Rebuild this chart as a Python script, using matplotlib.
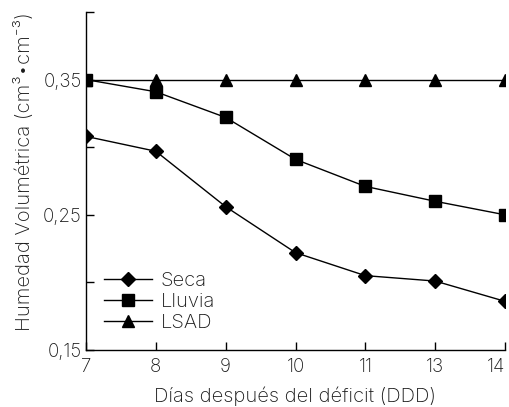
import matplotlib
matplotlib.use("Agg")
import matplotlib.pyplot as plt
import numpy as np

days = ["7", "8", "9", "10", "11", "13", "14"]
seca = [0.308, 0.297, 0.256, 0.222, 0.205, 0.201, 0.186]
lluvia = [0.350, 0.341, 0.322, 0.291, 0.271, 0.260, 0.250]
lsad = [0.350, 0.350, 0.350, 0.350, 0.350, 0.350, 0.350]
yticks_major = [0.15, 0.25, 0.35]
ytick_labels = ["0,15", "0,25", "0,35"]
yticks_minor = [0.20, 0.30, 0.40]

plt.rcParams['font.family'] = ['Inter', 'Roboto', 'DejaVu Sans']
plt.rcParams['font.weight'] = 'light'
plt.rcParams['axes.labelweight'] = 'light'
fig = plt.figure(figsize=(5.09, 4.07), dpi=100)
ax = fig.add_axes([86/509, 1-350/407, (505-86)/509, (350-12)/407])

x = np.arange(len(days))
tc = '#1a1a1a'
ax.plot(x, seca, color='black', lw=1, marker='D', ms=7, label='Seca')
ax.plot(x, lluvia, color='black', lw=1, marker='s', ms=8, label='Lluvia')
ax.plot(x, lsad, color='black', lw=1, marker='^', ms=9, label='LSAD')

ax.set_xlim(0, len(days)-1)
ax.set_ylim(0.15, 0.40)
ax.set_xticks(x)
ax.set_xticklabels(days)
ax.set_yticks(yticks_major)
ax.set_yticklabels(ytick_labels)
ax.set_yticks(yticks_minor, minor=True)
ax.tick_params(axis='both', which='both', direction='in', length=6, width=1, labelsize=13.5, labelcolor=tc)
ax.tick_params(axis='x', pad=6)
ax.tick_params(axis='y', pad=3)
for s in ['top', 'right']:
    ax.spines[s].set_visible(False)
for s in ['left', 'bottom']:
    ax.spines[s].set_linewidth(1)
lbls = ax.get_xticklabels()
lbls[-1].set_horizontalalignment('right')

ax.set_xlabel("Días después del déficit (DDD)", fontsize=14.5, color=tc, labelpad=7)
ax.set_ylabel("Humedad Volumétrica (cm³•cm⁻³)", fontsize=14.5, color=tc)
ax.yaxis.set_label_coords(-0.125, 0.527)

ax.legend(loc='lower left', bbox_to_anchor=(0.0, 0.0), frameon=False, fontsize=14.5,
          handlelength=2.4, handletextpad=0.4, labelspacing=0.15, labelcolor=tc)

fig.savefig("out.png", dpi=100)
